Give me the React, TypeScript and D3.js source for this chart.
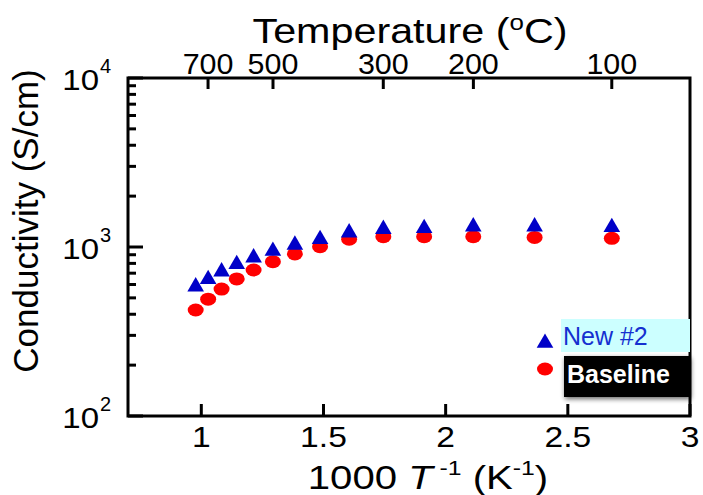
import React from 'react';
import * as d3 from 'd3';

// 1000/T (K^-1) of each measurement (750 C down to 100 C)
const invTemp = [0.977, 1.028, 1.083, 1.145, 1.214, 1.293, 1.383, 1.486, 1.605, 1.745, 1.912, 2.113, 2.364, 2.680];
const newSeries = [582, 644, 714, 790, 865, 947, 1028, 1111, 1216, 1274, 1291, 1319, 1319, 1309];
const baseline = [424, 491, 564, 647, 731, 819, 910, 1005, 1111, 1151, 1151, 1151, 1140, 1125];

const bottomTicks = [1, 1.5, 2, 2.5, 3];
const topTicksC = [700, 500, 300, 200, 100];
const yDecades = [2, 3, 4];

const W = 703;
const H = 495;
const m = { left: 128, right: 690, top: 78, bottom: 416 };
const font = '"Liberation Sans", Arial, sans-serif';
const SX = 1.18; // the figure's text is a bit wider than plain Arial

export default function App() {
    const x = d3.scaleLinear().domain([0.7, 3]).range([m.left, m.right]);
    const y = d3.scaleLog().domain([100, 10000]).range([m.bottom, m.top]);

    const tri = d3.symbol().type(d3.symbolTriangle).size(120)();

    // minor ticks 2..9 in each decade
    const minor: number[] = [];
    [100, 1000].forEach(base => {
        for (let k = 2; k <= 9; k++) minor.push(base * k);
    });

    return (
        <svg width={W} height={H} style={{ position: 'absolute', left: 0, top: 0, background: '#fff' }}
            fontFamily={font}>
            <defs>
                <filter id='glow' x='-20%' y='-30%' width='140%' height='160%'>
                    <feGaussianBlur in='SourceAlpha' stdDeviation='2.5' result='b' />
                    <feOffset in='b' dx='1' dy='2' result='o' />
                    <feComponentTransfer in='o' result='s'>
                        <feFuncA type='linear' slope='0.6' />
                    </feComponentTransfer>
                    <feMerge>
                        <feMergeNode in='s' />
                        <feMergeNode in='SourceGraphic' />
                    </feMerge>
                </filter>
            </defs>

            {/* data */}
            {invTemp.map((t, i) => (
                <ellipse key={'b' + i} cx={x(t)} cy={y(baseline[i])} rx={8} ry={6.5} fill='#ff0000' />
            ))}
            {invTemp.map((t, i) => (
                <path key={'n' + i} d={tri} transform={`translate(${x(t)},${y(newSeries[i])})`} fill='#0000c8' />
            ))}

            {/* frame */}
            <rect x={m.left} y={m.top} width={m.right - m.left} height={m.bottom - m.top}
                fill='none' stroke='#000' strokeWidth={3} />

            {/* bottom axis */}
            {bottomTicks.map(v => (
                <g key={'bt' + v}>
                    <line x1={x(v)} x2={x(v)} y1={m.bottom} y2={m.bottom - 12} stroke='#000' strokeWidth={3} />
                    <text transform={`translate(${x(v)},447) scale(1.12,1)`} fontSize={30} textAnchor='middle'>{v}</text>
                </g>
            ))}

            {/* top axis, temperature in C */}
            {topTicksC.map(c => {
                const px = x(1000 / (c + 273.15));
                return (
                    <g key={'tt' + c}>
                        <line x1={px} x2={px} y1={m.top} y2={m.top + 11} stroke='#000' strokeWidth={3} />
                        <text transform={`translate(${px},74) scale(1.05,1)`} fontSize={29} textAnchor='middle'>{c}</text>
                    </g>
                );
            })}

            {/* left axis */}
            {yDecades.map(e => (
                <g key={'yd' + e}>
                    <line x1={m.left} x2={m.left + 15} y1={y(10 ** e)} y2={y(10 ** e)} stroke='#000' strokeWidth={3} />
                    <text transform={`translate(99,${y(10 ** e) + 12}) scale(1.1,1)`} fontSize={30} textAnchor='end'>10</text>
                    <text x={100} y={y(10 ** e) - 5} fontSize={20}>{e}</text>
                </g>
            ))}
            {minor.map(v => (
                <line key={'mn' + v} x1={m.left} x2={m.left + 8} y1={y(v)} y2={y(v)} stroke='#000' strokeWidth={3} />
            ))}

            {/* titles */}
            <text transform={`translate(410,43) scale(${SX},1)`} fontSize={35} textAnchor='middle'>
                Temperature (<tspan fontSize={22} dy={-13}>o</tspan><tspan dy={13}>C)</tspan>
            </text>
            <text transform={`translate(428,489) scale(${SX},1)`} fontSize={34} textAnchor='middle'>
                1000 <tspan fontStyle='italic'>T</tspan>
                <tspan fontSize={21} dy={-14}> -1</tspan>
                <tspan dy={14}> (K</tspan>
                <tspan fontSize={21} dy={-14}>-1</tspan>
                <tspan dy={14}>)</tspan>
            </text>
            <text transform='translate(38,221) rotate(-90)' fontSize={35} textAnchor='middle'>
                Conductivity (S/cm)
            </text>

            {/* legend */}
            <path d={tri} transform='translate(545,343)' fill='#0000c8' />
            <ellipse cx={545} cy={369} rx={8} ry={6.5} fill='#ff0000' />
            <rect x={561} y={319} width={129} height={33} fill='#ccffff' />
            <text x={563} y={345} fontSize={25} fill='#1530d0'>New #2</text>
            <rect x={564} y={356} width={126} height={41} fill='#000' filter='url(#glow)' />
            <text x={567} y={383} fontSize={25} fontWeight='bold' fill='#fff'>Baseline</text>
        </svg>
    );
}
